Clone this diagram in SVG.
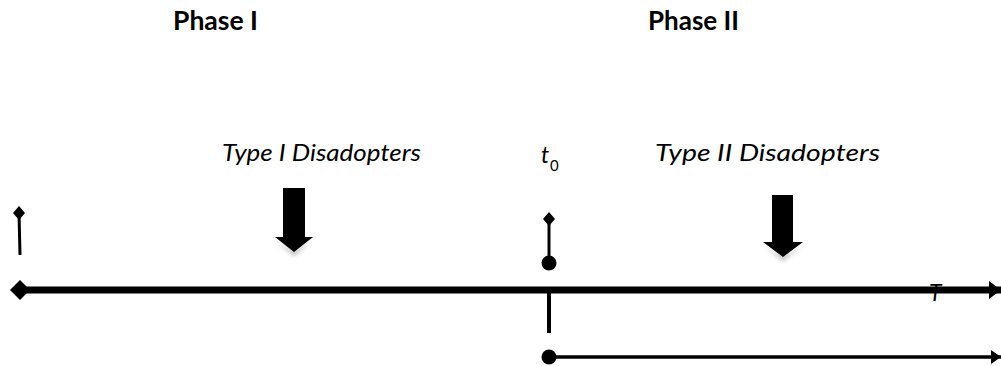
<svg xmlns="http://www.w3.org/2000/svg" width="1001" height="366" viewBox="0 0 1001 366">
<defs>
<style>
.phase{font-family:Lato,"Liberation Sans",sans-serif;font-weight:bold;font-size:27px;fill:#000}
.lbl{font-family:Lato,"Liberation Sans",sans-serif;font-style:italic;font-size:23px;fill:#000}
.ln{stroke:#000;fill:none}
.blk{fill:#000}
</style>
<filter id="blur" x="-20%" y="-50%" width="140%" height="200%"><feGaussianBlur stdDeviation="2"/></filter>
<marker id="headBig" markerUnits="userSpaceOnUse" markerWidth="14" markerHeight="20" refX="12" refY="10" orient="auto" viewBox="0 0 14 20"><path d="M0,1 L12,10 L0,19 Z" fill="#000"/></marker>
<marker id="headSmall" markerUnits="userSpaceOnUse" markerWidth="12" markerHeight="16" refX="10" refY="8" orient="auto" viewBox="0 0 12 16"><path d="M0,1 L10,8 L0,15 Z" fill="#000"/></marker>
</defs>
<rect width="1001" height="366" fill="#fff"/>

<g id="phase1"><text class="phase" x="173" y="30" textLength="85" lengthAdjust="spacingAndGlyphs">Phase I</text></g>
<g id="phase2"><text class="phase" x="648" y="30" textLength="91" lengthAdjust="spacingAndGlyphs">Phase II</text></g>

<g id="type1">
<text class="lbl" x="222" y="161" textLength="199" lengthAdjust="spacingAndGlyphs">Type I Disadopters</text>
<path d="M276,241 L294,256 L312,241 L300,248 L294,251 L288,248 Z" fill="#999" filter="url(#blur)" opacity="0.7"/>
<path class="blk" d="M283,188 H305 V237 H313 L294,252 L275,237 H283 Z"/>
</g>

<g id="type2">
<text class="lbl" x="655" y="161" textLength="225" lengthAdjust="spacingAndGlyphs">Type II Disadopters</text>
<path d="M764,246 L783,261 L802,246 L790,253 L783,256 L776,253 Z" fill="#999" filter="url(#blur)" opacity="0.7"/>
<path class="blk" d="M772,195 H793 V242 H803 L783,257 L763,242 H772 Z"/>
</g>

<g id="t0">
<text class="lbl" x="541" y="163" font-size="22">t</text>
<text x="550" y="171" font-family="Lato,'Liberation Sans',sans-serif" font-size="15" fill="#000">0</text>
</g>

<g id="T"><text class="lbl" x="929" y="301" font-size="22">T</text></g>

<g id="connectors">
<!-- left start marker -->
<line class="ln" x1="19" y1="213" x2="20" y2="255" stroke-width="3"/>
<path class="blk" d="M19,206 L25,213 L19,220 L13,213 Z"/>
<!-- main axis -->
<line class="ln" x1="20" y1="290" x2="1001" y2="290" stroke-width="7" marker-end="url(#headBig)"/>
<path class="blk" d="M20,280 L30,290 L20,300 L10,290 Z"/>
<!-- t0 marker -->
<line class="ln" x1="549" y1="219" x2="549" y2="262" stroke-width="3"/>
<path class="blk" d="M549,212 L555,219 L549,226 L543,219 Z"/>
<circle class="blk" cx="549" cy="263" r="7.5"/>
<!-- below axis -->
<line class="ln" x1="549" y1="290" x2="549" y2="333" stroke-width="4"/>
<circle class="blk" cx="549" cy="357" r="7.5"/>
<line class="ln" x1="549" y1="357" x2="1001" y2="357" stroke-width="3.5" marker-end="url(#headSmall)"/>
</g>
</svg>
